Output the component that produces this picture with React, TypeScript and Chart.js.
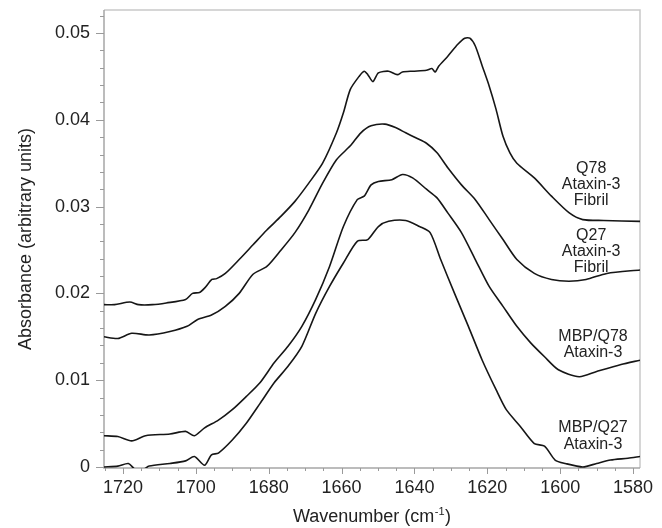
import React, { useEffect, useRef } from "react";
import { Chart, registerables } from "chart.js";

Chart.register(...registerables);

// ---- Data (wavenumber in cm^-1, absorbance in arbitrary units) ----
const q78FibrilWn = [1725.2, 1722.3, 1718.1, 1715.7, 1711.9, 1708.1, 1702.8, 1700.9, 1699.0, 1697.6, 1695.6, 1694.3, 1691.9, 1688.1, 1684.3, 1680.5, 1676.6, 1672.8, 1669.0, 1665.2, 1661.4, 1659.5, 1657.6, 1655.2, 1653.8, 1652.8, 1651.4, 1649.9, 1647.1, 1644.7, 1643.3, 1640.5, 1636.7, 1635.2, 1634.3, 1633.3, 1630.9, 1628.1, 1626.2, 1624.8, 1623.3, 1621.4, 1619.5, 1617.6, 1615.7, 1613.8, 1611.9, 1607.1, 1602.4, 1597.6, 1593.8, 1588.1, 1578.1];
const q78FibrilAbs = [0.0187, 0.0187, 0.019, 0.0187, 0.0187, 0.0189, 0.0193, 0.02, 0.0201, 0.0206, 0.0216, 0.0217, 0.0223, 0.0239, 0.0256, 0.0273, 0.0289, 0.0306, 0.0327, 0.035, 0.0385, 0.0408, 0.0435, 0.045, 0.0456, 0.0452, 0.0444, 0.0454, 0.0456, 0.0452, 0.0455, 0.0456, 0.0457, 0.0459, 0.0455, 0.0462, 0.0473, 0.0487, 0.0494, 0.0494, 0.0485, 0.0462, 0.0439, 0.0412, 0.0381, 0.0362, 0.035, 0.0333, 0.0312, 0.0293, 0.0285, 0.0284, 0.0283];

const q27FibrilWn = [1725.2, 1721.4, 1717.6, 1712.8, 1707.1, 1702.4, 1699.5, 1695.7, 1691.9, 1688.1, 1684.3, 1680.5, 1676.6, 1672.8, 1669.0, 1665.2, 1661.4, 1657.6, 1654.7, 1651.9, 1648.1, 1645.2, 1642.4, 1639.5, 1636.7, 1633.8, 1630.9, 1627.1, 1623.3, 1619.5, 1615.7, 1611.9, 1607.1, 1602.4, 1597.6, 1592.9, 1587.2, 1578.1];
const q27FibrilAbs = [0.015, 0.0148, 0.0154, 0.0152, 0.0156, 0.0162, 0.017, 0.0175, 0.0185, 0.02, 0.0222, 0.0231, 0.025, 0.027, 0.0296, 0.0327, 0.0354, 0.037, 0.0385, 0.0393, 0.0395, 0.0391, 0.0385, 0.0379, 0.0373, 0.0362, 0.0345, 0.0325, 0.0308, 0.0285, 0.0262, 0.0239, 0.0223, 0.0216, 0.0214, 0.0216, 0.0223, 0.0227];

const mbpQ78Wn = [1725.2, 1721.4, 1717.6, 1713.8, 1707.1, 1702.8, 1700.4, 1697.6, 1693.8, 1690.0, 1686.2, 1682.4, 1678.5, 1674.7, 1670.9, 1667.1, 1663.3, 1659.5, 1655.7, 1653.8, 1651.9, 1649.9, 1646.2, 1643.3, 1640.5, 1636.7, 1633.8, 1630.9, 1627.1, 1623.3, 1619.5, 1615.7, 1611.9, 1608.1, 1604.3, 1600.5, 1594.8, 1590.0, 1583.3, 1578.1];
const mbpQ78Abs = [0.0036, 0.0035, 0.003, 0.0036, 0.0038, 0.0041, 0.0036, 0.0045, 0.0054, 0.0066, 0.0081, 0.0097, 0.012, 0.0139, 0.0162, 0.0193, 0.0231, 0.0277, 0.0308, 0.0312, 0.0325, 0.0329, 0.0331, 0.0337, 0.0333, 0.032, 0.031, 0.0293, 0.027, 0.0239, 0.0208, 0.0185, 0.0162, 0.0143, 0.0127, 0.0112, 0.0104, 0.011, 0.0118, 0.0123];

const mbpQ27Wn = [1725.2, 1721.4, 1718.5, 1716.6, 1714.5, 1712.8, 1707.1, 1702.8, 1700.4, 1697.6, 1695.7, 1693.8, 1690.0, 1686.2, 1682.4, 1678.5, 1674.7, 1670.9, 1667.1, 1663.3, 1659.5, 1655.7, 1652.8, 1649.9, 1647.1, 1642.4, 1638.6, 1635.7, 1632.8, 1629.0, 1625.2, 1621.4, 1617.6, 1614.8, 1611.0, 1607.1, 1604.3, 1601.4, 1598.6, 1593.8, 1590.0, 1586.2, 1581.4, 1578.1];
const mbpQ27Abs = [0.0, 0.0001, 0.0004, -0.0003, -0.0003, 0.0001, 0.0004, 0.0007, 0.0012, 0.0002, 0.0014, 0.0016, 0.0031, 0.005, 0.0073, 0.0097, 0.0116, 0.0139, 0.0177, 0.0208, 0.0235, 0.026, 0.0262, 0.0277, 0.0283, 0.0284, 0.0277, 0.027, 0.0239, 0.02, 0.0162, 0.0123, 0.0089, 0.0066, 0.0047, 0.0027, 0.0024, 0.0008, 0.0004, 0.0, 0.0004, 0.0008, 0.001, 0.0012];

const xTickValues = [1720, 1700, 1680, 1660, 1640, 1620, 1600, 1580];
const xTickLabels = ["1720", "1700", "1680", "1660", "1640", "1620", "1600", "1580"];
const yTickValues = [0, 0.01, 0.02, 0.03, 0.04, 0.05];
const yTickLabels = ["0", "0.01", "0.02", "0.03", "0.04", "0.05"];

const seriesLabels = [
  ["Q78", "Ataxin-3", "Fibril"],
  ["Q27", "Ataxin-3", "Fibril"],
  ["MBP/Q78", "Ataxin-3"],
  ["MBP/Q27", "Ataxin-3"],
];
// anchor (wavenumber, absorbance) of each label's first line
const labelAnchorWn = [1591.5, 1591.5, 1591.0, 1591.0];
const labelAnchorAbs = [0.0344, 0.0267, 0.015, 0.0045];

const X_MIN = 1578.1;
const X_MAX = 1725.2;
const Y_MIN = -0.00012;
const Y_MAX = 0.05265;
const X_MINOR = 5;
const X_MAJOR = 20;
const Y_MINOR = 0.002;

const FONT = '"Liberation Sans", Arial, Helvetica, sans-serif';
const TEXT = "#222";

const toPoints = (xs: number[], ys: number[]) => xs.map((x, i) => ({ x, y: ys[i] }));

const framePlugin = {
  id: "frameDecor",
  beforeDatasetsDraw(chart: any) {
    const { ctx, chartArea: a } = chart;
    ctx.save();
    ctx.lineWidth = 1.5;
    ctx.strokeStyle = "#c9c9c9";
    ctx.beginPath();
    ctx.moveTo(a.left, a.top);
    ctx.lineTo(a.right, a.top);
    ctx.lineTo(a.right, a.bottom);
    ctx.stroke();
    ctx.strokeStyle = "#a6a6a6";
    ctx.beginPath();
    ctx.moveTo(a.left, a.top);
    ctx.lineTo(a.left, a.bottom);
    ctx.lineTo(a.right, a.bottom);
    ctx.stroke();

    const xs = chart.scales.x;
    const ys = chart.scales.y;
    ctx.lineWidth = 1;
    ctx.strokeStyle = "#9a9a9a";
    ctx.beginPath();
    for (let k = Math.ceil(X_MIN / X_MINOR); k * X_MINOR <= X_MAX; k++) {
      const v = k * X_MINOR;
      const px = Math.round(xs.getPixelForValue(v)) + 0.5;
      const len = v % X_MAJOR === 0 ? 6 : 3;
      ctx.moveTo(px, a.bottom);
      ctx.lineTo(px, a.bottom + len);
    }
    for (let k = 0; k * Y_MINOR <= Y_MAX + 1e-9; k++) {
      const v = k * Y_MINOR;
      const py = Math.round(ys.getPixelForValue(v)) + 0.5;
      const len = k % 5 === 0 ? 8 : 4;
      ctx.moveTo(a.left - len, py);
      ctx.lineTo(a.left, py);
    }
    ctx.stroke();
    ctx.restore();
  },
  afterDraw(chart: any) {
    const { ctx, chartArea: a } = chart;
    const xs = chart.scales.x;
    const ys = chart.scales.y;
    ctx.save();
    ctx.fillStyle = TEXT;
    // x axis title with superscript
    const main = "Wavenumber (cm";
    const sup = "-1";
    const close = ")";
    ctx.font = `18px ${FONT}`;
    const wMain = ctx.measureText(main).width;
    const wClose = ctx.measureText(close).width;
    ctx.font = `11px ${FONT}`;
    const wSup = ctx.measureText(sup).width;
    const total = wMain + wSup + wClose + 1;
    let sx = (a.left + a.right) / 2 - total / 2;
    const base = 522;
    ctx.textBaseline = "alphabetic";
    ctx.textAlign = "left";
    ctx.font = `18px ${FONT}`;
    ctx.fillText(main, sx, base);
    sx += wMain + 0.5;
    ctx.font = `11px ${FONT}`;
    ctx.fillText(sup, sx, base - 7);
    sx += wSup + 0.5;
    ctx.font = `18px ${FONT}`;
    ctx.fillText(close, sx, base);

    // series labels
    ctx.font = `16px ${FONT}`;
    ctx.textAlign = "center";
    ctx.textBaseline = "middle";
    seriesLabels.forEach((lines, i) => {
      const cx = xs.getPixelForValue(labelAnchorWn[i]);
      const cy = ys.getPixelForValue(labelAnchorAbs[i]);
      lines.forEach((t, j) => ctx.fillText(t, cx, cy + j * 16.3));
    });
    ctx.restore();
  },
};

export default function App() {
  const ref = useRef<HTMLCanvasElement | null>(null);
  useEffect(() => {
    if (!ref.current) return;
    const lineStyle = {
      borderColor: "#161616",
      borderWidth: 1.6,
      pointRadius: 0,
      fill: false,
      tension: 0.25,
    };
    const chart = new Chart(ref.current, {
      type: "line",
      data: {
        datasets: [
          { label: "Q78 Ataxin-3 Fibril", data: toPoints(q78FibrilWn, q78FibrilAbs), ...lineStyle },
          { label: "Q27 Ataxin-3 Fibril", data: toPoints(q27FibrilWn, q27FibrilAbs), ...lineStyle },
          { label: "MBP/Q78 Ataxin-3", data: toPoints(mbpQ78Wn, mbpQ78Abs), ...lineStyle },
          { label: "MBP/Q27 Ataxin-3", data: toPoints(mbpQ27Wn, mbpQ27Abs), ...lineStyle },
        ],
      },
      options: {
        responsive: false,
        animation: false,
        events: [],
        layout: { padding: { top: 10, right: 22, left: 0, bottom: 0 } },
        plugins: { legend: { display: false }, tooltip: { enabled: false } },
        scales: {
          x: {
            type: "linear",
            reverse: true,
            min: X_MIN,
            max: X_MAX,
            border: { display: false },
            grid: { display: false, drawTicks: false },
            afterBuildTicks: (scale: any) => {
              scale.ticks = xTickValues.map((v) => ({ value: v }));
            },
            afterFit: (scale: any) => {
              scale.height = 60;
              scale.paddingLeft = 0;
              scale.paddingRight = 0;
            },
            ticks: {
              autoSkip: false,
              maxRotation: 0,
              padding: 9,
              color: TEXT,
              font: { family: FONT, size: 18 },
              callback: (v: any) => {
                const i = xTickValues.indexOf(Number(v));
                return i >= 0 ? xTickLabels[i] : "";
              },
            },
          },
          y: {
            type: "linear",
            min: Y_MIN,
            max: Y_MAX,
            border: { display: false },
            grid: { display: false, drawTicks: false },
            afterBuildTicks: (scale: any) => {
              scale.ticks = yTickValues.map((v) => ({ value: v }));
            },
            afterFit: (scale: any) => {
              scale.width = 104;
              scale.paddingTop = 0;
              scale.paddingBottom = 0;
            },
            title: {
              display: true,
              text: "Absorbance (arbitrary units)",
              color: TEXT,
              font: { family: FONT, size: 18 },
              padding: { top: 15, bottom: 0 },
            },
            ticks: {
              autoSkip: false,
              padding: 14,
              color: TEXT,
              font: { family: FONT, size: 18 },
              callback: (v: any) => {
                const i = yTickValues.indexOf(Number(v));
                return i >= 0 ? yTickLabels[i] : "";
              },
            },
          },
        },
      },
      plugins: [framePlugin],
    });
    return () => chart.destroy();
  }, []);

  return (
    <div style={{ position: "fixed", left: 0, top: 0, width: 662, height: 528, background: "#fff" }}>
      <canvas ref={ref} width={662} height={528} style={{ display: "block", width: 662, height: 528 }} />
    </div>
  );
}
